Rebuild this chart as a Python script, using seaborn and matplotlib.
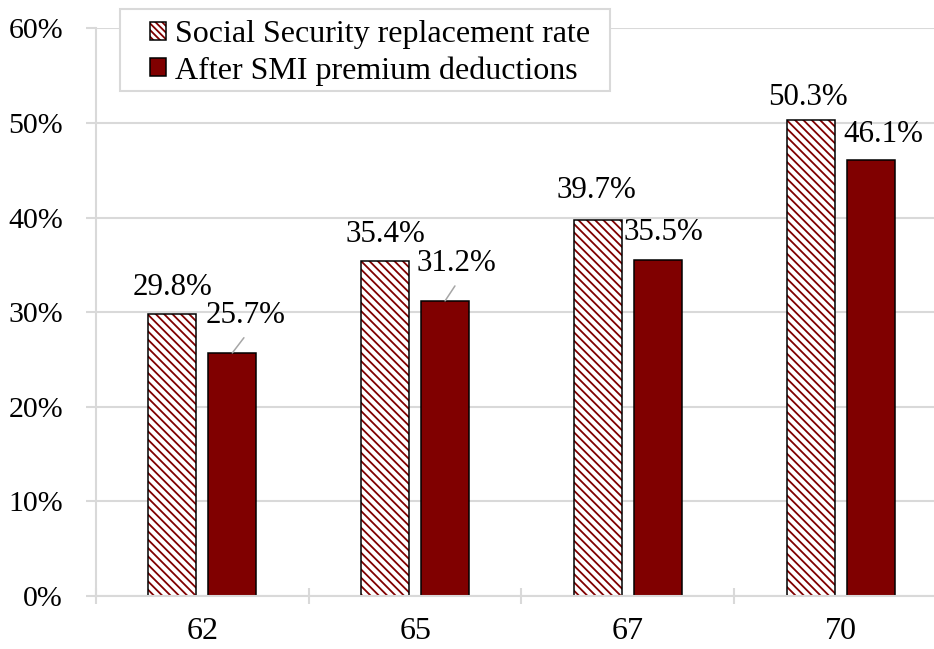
import matplotlib
matplotlib.use("Agg")
import matplotlib.pyplot as plt
import seaborn as sns
import pandas as pd
from matplotlib.ticker import FuncFormatter, FixedLocator
from matplotlib.patches import Rectangle, Patch
from matplotlib.legend_handler import HandlerTuple

ages = ["62", "65", "67", "70"]
ss_rate = [29.8, 35.4, 39.7, 50.3]
after_smi = [25.7, 31.2, 35.5, 46.1]
series = ["Social Security replacement rate", "After SMI premium deductions"]

df = pd.DataFrame({
    "age": ages * 2,
    "value": ss_rate + after_smi,
    "series": [series[0]] * 4 + [series[1]] * 4,
})

sns.set_theme(style="white")
plt.rcParams["font.family"] = ["Liberation Serif", "DejaVu Serif"]
plt.rcParams["hatch.linewidth"] = 1.3
plt.rcParams["text.color"] = "black"

FS_LEG = 23
FS_LAB = 22.3
FS_X = 23
FS_Y = 21.5
dark = "#800000"
grid_c = "#d9d9d9"
HATCH = "\\" * 4

fig = plt.figure(figsize=(9.34, 6.49), dpi=100)
ax = fig.add_axes([0.1028, 0.0817, 0.9111, 0.8744])

sns.barplot(data=df, x="age", y="value", hue="series", order=ages, hue_order=series,
            palette=["white", dark], saturation=1, width=0.563, gap=0.2, ax=ax,
            edgecolor="black", linewidth=1.1, legend=False)

# hatched bars: dark red hatch, then black outline drawn on top
for p in ax.containers[0]:
    p.set_facecolor("white")
    p.set_edgecolor(dark)
    p.set_linewidth(0)
    p.set_hatch(HATCH)
    ax.add_patch(Rectangle((p.get_x(), p.get_y()), p.get_width(), p.get_height(),
                           fill=False, edgecolor="black", linewidth=1.1, zorder=p.get_zorder() + 0.1))

ax.set_ylim(0, 60)
ax.set_xlim(-0.5, 3.5)
ax.yaxis.set_major_locator(FixedLocator(range(0, 61, 10)))
ax.yaxis.set_major_formatter(FuncFormatter(lambda v, p: f"{int(v)}%"))
ax.grid(axis="y", color=grid_c, linewidth=1.5)
ax.set_axisbelow(True)
for s in ["right", "top"]:
    ax.spines[s].set_visible(False)
for s in ["left", "bottom"]:
    ax.spines[s].set_color(grid_c)
    ax.spines[s].set_linewidth(1.5)
ax.set_xlabel("")
ax.set_ylabel("")
ax.tick_params(axis="y", length=7.2, width=1.5, color=grid_c, direction="out",
               labelsize=FS_Y, pad=16.5, labelcolor="black", left=True)
ax.tick_params(axis="x", which="major", length=0, labelsize=FS_X, pad=15, labelcolor="black")
ax.set_xticks([-0.5, 0.5, 1.5, 2.5, 3.5], minor=True)
ax.tick_params(axis="x", which="minor", length=12, width=1.5, color=grid_c,
               direction="inout", bottom=True)

# data labels
ss_off = [(0, 13.5), (0, 13.5), (-1, 16), (-2, 11)]
for p, v, off in zip(ax.containers[0], ss_rate, ss_off):
    cx = p.get_x() + p.get_width() / 2
    ax.annotate(f"{v}%", (cx, v), xytext=off, textcoords="offset points",
                ha="center", va="baseline", fontsize=FS_LAB, color="black")
smi_off = [(9.7, 21.5), (8, 21.5), (4, 14.5), (9, 13)]
for i, (p, v, off) in enumerate(zip(ax.containers[1], after_smi, smi_off)):
    cx = p.get_x() + p.get_width() / 2
    kw = {}
    if i < 2:
        kw["arrowprops"] = dict(arrowstyle="-", color="#a6a6a6", lw=1.1,
                                shrinkA=4, shrinkB=0, relpos=(0.55, 0.0))
    ax.annotate(f"{v}%", (cx, v), xytext=off, textcoords="offset points",
                ha="center", va="baseline", fontsize=FS_LAB, color="black", **kw)

# legend frame drawn as a figure-level box
W, H = 934, 649
ax.add_patch(Rectangle((120 / W, 1 - 91 / H), (610 - 120) / W, (91 - 9) / H,
                       transform=fig.transFigure, facecolor="white", edgecolor=grid_c,
                       linewidth=1.5, clip_on=False, zorder=4))
h1 = (Patch(facecolor="white", edgecolor=dark, linewidth=0, hatch="\\" * 5),
      Patch(fill=False, edgecolor="black", linewidth=1.1))
h2 = Patch(facecolor=dark, edgecolor="black", linewidth=1.1)
leg = ax.legend(handles=[h1, h2], labels=series,
                handler_map={tuple: HandlerTuple(ndivide=1, pad=0)},
                loc="upper left", bbox_to_anchor=(150 / W, 1 - 20 / H),
                bbox_transform=fig.transFigure, fontsize=FS_LEG, frameon=False,
                handlelength=0.5, handleheight=0.5, handletextpad=0.28,
                borderpad=0, labelspacing=0.22, borderaxespad=0)
leg.set_zorder(5)
for t in leg.get_texts():
    t.set_color("black")

fig.savefig("out.png", dpi=100)
